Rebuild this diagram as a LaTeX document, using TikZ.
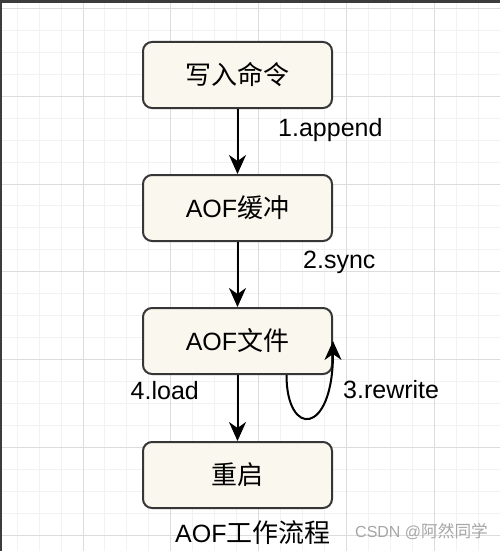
\documentclass[tikz,border=0pt]{standalone}
\usepackage{fontspec}
\setmainfont{Liberation Sans}
\newfontfamily\cjk[Scale=1.04]{Noto Sans CJK SC}
\usepackage{xcolor}
\usetikzlibrary{positioning,arrows.meta}

\definecolor{boxfill}{HTML}{F9F7EE}
\definecolor{boxline}{HTML}{363636}
\definecolor{minorgrid}{HTML}{F2F2F2}
\definecolor{majorgrid}{HTML}{DCDCDC}
\definecolor{frame}{HTML}{3C3C3C}

\begin{document}
\begin{tikzpicture}[x=1pt, y=-1pt, font=\fontsize{25}{30}\selectfont,
    seg/.style={draw=boxline, line width=2pt, fill=boxfill, rounded corners=9pt,
        minimum width=189pt, minimum height=66pt, inner sep=0pt, align=center},
    flow/.style={line width=2pt, -{Stealth[length=19pt, width=17pt, inset=6pt]}},
    lbl/.style={anchor=west, inner sep=0pt, text height=0.72em, text depth=0.21em}]
		% background grid and frame
		\useasboundingbox (0,0) rectangle (500,551);
		\fill[white] (0,0) rectangle (500,551);
		\foreach \i in {0,...,23} {
			\draw[minorgrid, line width=1pt] ({-4.8+21.95*\i},0) -- ({-4.8+21.95*\i},551);
			\draw[minorgrid, line width=1pt] (0,{8.4+21.95*\i}) -- (500,{8.4+21.95*\i});
		}
		\foreach \i in {0,...,6} {
			\draw[majorgrid, line width=1pt] ({-4.8+87.8*\i},0) -- ({-4.8+87.8*\i},551);
			\draw[majorgrid, line width=1pt] (0,{8.4+87.8*\i}) -- (500,{8.4+87.8*\i});
		}
		\fill[frame] (0,0) rectangle (500,2.7);
		\fill[frame] (0,0) rectangle (2.3,551);

		% boxes
		\node[seg] (cmd) at (237.5,75) {{\cjk 写入命令}};
		\node[seg, below=65pt of cmd] (buf) {AOF{\cjk 缓冲}};
		\node[seg, below=65pt of buf] (file) {AOF{\cjk 文件}};
		\node[seg, below=66pt of file] (boot) {{\cjk 重启}};

		% arrows
		\draw[flow] (cmd) -- (buf);
		\draw[flow] (buf) -- (file);
		\draw[flow] (file) -- (boot);
		\draw[flow] ([xshift=49pt]file.south) .. controls +(0,63) and +(0,95) .. (file.east);

		% labels
		\node[lbl] (append) at (278,133.6) {1.append};
		\node[lbl] (sync) at (303,265.6) {2.sync};
		\node[lbl] (rewrite) at (343,395.6) {3.rewrite};
		\node[lbl] (load) at (130.5,396.6) {4.load};

		\node[lbl] (title) at (175,539.5) {AOF{\cjk 工作流程}};
		\node[lbl, font=\fontsize{16}{19}\selectfont, text=black!35] (mark) at (355,535) {CSDN @{\cjk 阿然同学}};
	\end{tikzpicture}
\end{document}
